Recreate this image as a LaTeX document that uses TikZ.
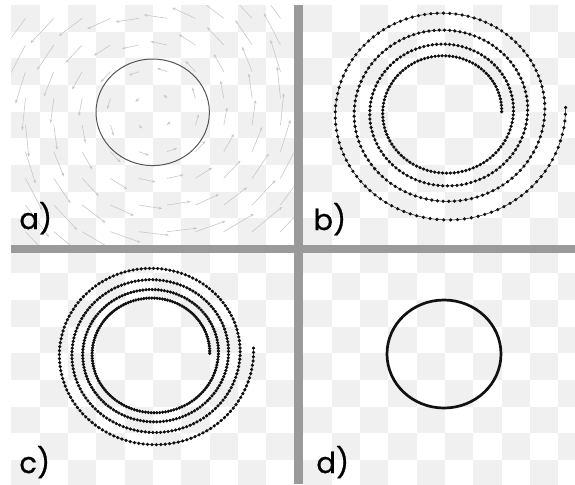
\documentclass[tikz,border=0pt]{standalone}
\usepackage{fontspec}
\newfontfamily\panelfont{Poppins}[FakeBold=0.7]
\usetikzlibrary{arrows.meta}
\definecolor{tilec}{HTML}{F0F0F0}
\definecolor{rulec}{HTML}{9A9A9A}
\definecolor{fieldc}{HTML}{C8C8C8}
\definecolor{ringc}{HTML}{555555}
\definecolor{ink}{HTML}{111111}
\tikzset{
  tile/.style={fill=tilec},
  divider/.style={fill=rulec},
  field/.style={fieldc,line width=0.3pt,-{Stealth[length=1.8pt,width=1.4pt]}},
  ring/.style={ringc,line width=0.5pt},
  thickring/.style={ink,line width=1.35pt},
  trail/.style={ink,line width=0.25pt},
  beads/.style={ink,only marks,mark=*,mark size=0.6pt},
  tag/.style={font=\panelfont\fontsize{14.5}{15}\selectfont,anchor=base west,inner sep=0pt},
}

\begin{document}
\begin{tikzpicture}[x=0.5pt,y=-0.5pt]
  \useasboundingbox (0,0) rectangle (575,484);
  \fill[white] (0,0) rectangle (575,484);
  \clip (0,0) rectangle (575,484);
  \foreach \px/\py in {11.33/5,303.33/5,11.33/246.67,303.33/246.67}
    \foreach \j in {0,...,8}
      \foreach \i in {0,2,...,8}
        \fill[tile] ({\px+28.33*(\i+mod(\j,2))},{\py+26.67*\j}) rectangle ++(28.33,26.67);
  \begin{scope}
    \clip (11.33,5) rectangle (294.67,245);
    \foreach \i in {0,...,9}
      \foreach \j in {0,...,8} {
        \pgfmathsetmacro\tx{11.33+28.33*(\i+0.5)}
        \pgfmathsetmacro\ty{5+26.67*(\j+0.5)}
        \draw[field] (\tx,\ty) -- ++({0.25*(\ty-111.67)},{-0.25*(\tx-153)});
      }
  \end{scope}
  \draw[ring] (152.7,112.3) ellipse [x radius=56.7, y radius=53.3];
  \begin{scope}[shift={(303.33,5)},x=14.1667pt,y=-13.3333pt]
    \draw[trail] plot[variable=\n,domain=0:420,samples=421]
      ({5+2*exp(0.0017968*\n)*cos(3.4336*\n)},{4-2*exp(0.0017968*\n)*sin(3.4336*\n)});
    \path[beads] plot[variable=\n,domain=0:420,samples=421]
      ({5+2*exp(0.0017968*\n)*cos(3.4336*\n)},{4-2*exp(0.0017968*\n)*sin(3.4336*\n)});
  \end{scope}
  \begin{scope}[shift={(11.33,246.67)},x=14.1667pt,y=-13.3333pt]
    \draw[trail] plot[variable=\n,domain=0:554,samples=555]
      ({5+2*exp(0.001034*\n)*cos(2.605*\n)},{4-2*exp(0.001034*\n)*sin(2.605*\n)});
    \path[beads] plot[variable=\n,domain=0:554,samples=555]
      ({5+2*exp(0.001034*\n)*cos(2.605*\n)},{4-2*exp(0.001034*\n)*sin(2.605*\n)});
  \end{scope}
  \draw[thickring] (444,354) ellipse [x radius=57, y radius=54];
  \fill[divider] (294.33,5) rectangle (303,484);
  \fill[divider] (11.33,245) rectangle (575,253.33);
  \node[tag] (taga) at (19,229) {a)};
  \node[tag] (tagb) at (313,230) {b)};
  \node[tag] (tagc) at (19,473) {c)};
  \node[tag] (tagd) at (316,473) {d)};
\end{tikzpicture}
\end{document}
